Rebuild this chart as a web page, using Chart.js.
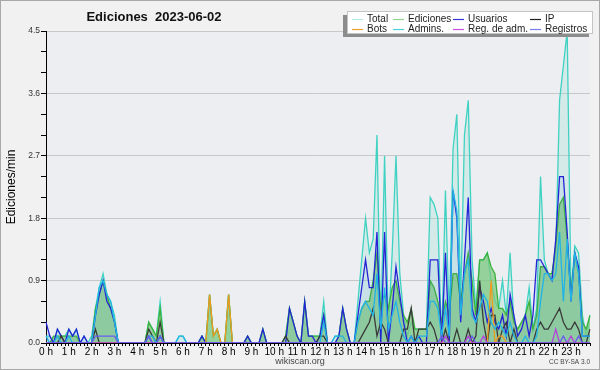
<!DOCTYPE html>
<html>
<head>
<meta charset="utf-8">
<script src="https://cdn.jsdelivr.net/npm/chart.js@4.4.0/dist/chart.umd.min.js"></script>
<style>
  html, body { margin: 0; padding: 0; background: #f1f1f1; }
  canvas { display: block; }
</style>
</head>
<body>
<canvas id="editsChart" width="600" height="370"></canvas>
<script>
// 10-minute slots, 6 per hour
const hours = [...Array(24).keys()];
const slots = [];
hours.forEach(h => { for (let m = 0; m < 6; m++) slots.push(h + ':' + m + '0'); });

const total = [
  0.1,0.1,0,0.2,0.1,0.1,  0.2,0.1,0.2,0,0.1,0,  0.1,0.5,0.8,1.0,0.7,0.6,  0.4,0,0,0,0,0,
  0,0,0,0.3,0.2,0.1,  0.6,0,0,0,0,0.1,  0.1,0,0,0,0,0.1,  0,0.7,0.1,0.2,0,0,
  0.7,0,0,0,0,0.1,  0,0,0,0.2,0,0,  0,0,0,0.1,0.5,0.3,  0.1,0,0.6,0.1,0.1,0.1,
  0.1,0.6,0,0,0.1,0.1,  0.5,0.2,0,0,0.6,1.2,  1.8,1.3,1.5,3.0,0.1,2.7,  0.2,1.3,2.7,1.0,0.4,0.1,
  0.3,0.2,0.2,0.2,0.2,2.1,  2.0,1.8,0,2.2,0.3,2.8,  3.3,0.6,3.0,3.5,1.2,0.5,  1.2,1.2,1.3,0.9,0.6,0.5,
  0.9,0.4,1.3,0.3,0.2,0.3,  0.4,0.8,0.2,0.5,2.4,1.2,  1.0,1.0,1.3,3.5,4.0,4.5,  0.7,1.4,1.3,0.4,0.1,0.4
];
const ediciones = [
  0,0,0.1,0.1,0.1,0.1,  0.1,0.1,0.1,0,0,0,  0,0.5,0.7,0.9,0.7,0.5,  0.3,0,0,0,0,0,
  0,0,0,0.3,0.2,0.1,  0.5,0,0,0,0,0,  0,0,0,0,0,0.1,  0,0.7,0.1,0.2,0,0,
  0.7,0,0,0,0,0.1,  0,0,0,0.2,0,0,  0,0,0,0.1,0.5,0.3,  0.1,0,0.6,0.1,0.1,0.1,
  0.1,0.4,0,0,0,0.1,  0.5,0.2,0,0,0.3,0.5,  0.6,0.6,0.9,1.3,0.5,0.7,  0.5,0.8,0.9,0.6,0.4,0.3,
  0.5,0.2,0.2,0.2,0.2,0.9,  0.8,0.6,0.3,0.6,0.4,1.0,  1.0,0.6,1.0,1.3,0.9,0.4,  1.2,1.2,1.3,1.1,1.0,0.5,
  0.5,0.4,0.6,0.3,0.2,0.3,  0.4,0.6,0.2,0.4,1.1,1.1,  1.0,1.0,1.4,2.0,2.1,1.5,  0.7,1.3,1.0,0.3,0.2,0.4
];
const usuarios = [
  0.3,0.1,0,0.2,0.1,0,  0.2,0.1,0.2,0,0.1,0,  0,0.4,0.7,0.9,0.6,0.5,  0.3,0,0,0,0,0,
  0,0,0,0.1,0,0,  0.1,0,0,0,0,0,  0,0,0,0,0,0.1,  0,0,0,0,0,0,
  0,0,0,0,0,0.1,  0,0,0,0.2,0,0,  0,0,0,0,0.5,0.3,  0.1,0,0.6,0.1,0.1,0,
  0.1,0.4,0,0,0,0.1,  0.5,0.2,0,0,0.4,0.8,  1.2,0.8,0.8,1.6,0,1.6,  0,0.5,1.1,0.7,0.3,0,
  0.1,0,0.1,0,0,1.2,  1.2,1.2,0,1.3,0,2.2,  1.8,0.3,1.2,2.1,0.5,0.3,  0.8,0.6,0.3,0.5,0.3,0.2,
  0.4,0.1,0.7,0.4,0.1,0.2,  0.4,0.1,0.4,1.2,1.2,1.1,  1.0,0.9,1.5,2.4,2.4,1.6,  0.6,1.3,1.1,0.1,0.1,0.1
];
const ip = [
  0,0,0,0,0.1,0,  0,0,0,0,0,0,  0,0.2,0,0,0,0,  0,0,0,0,0,0,
  0,0,0,0.2,0.1,0,  0.3,0,0,0,0,0,  0,0,0,0,0,0,  0,0,0,0,0,0,
  0,0,0,0,0,0,  0,0,0,0,0,0,  0,0,0,0.1,0,0,  0,0,0,0,0,0,
  0.1,0.1,0,0,0,0,  0,0,0,0,0,0.1,  0.2,0.3,0.5,0.1,0.3,0.2,  0,0,0,0,0.2,0.2,
  0.5,0,0.2,0.2,0.2,0.3,  0.2,0,0,0.2,0,0,  0.2,0,0,0.2,0,0.1,  0.9,0.3,0,0.4,0.4,0,
  0.2,0.3,0,0.2,0,0,  0,0,0,0.2,0.3,0.2,  0.2,0.3,0.4,0.5,0.3,0.2,  0.2,0.3,0.2,0,0,0.2
];
const bots = [
  0,0,0,0,0,0,  0,0,0,0,0,0,  0,0,0,0,0,0,  0,0,0,0,0,0,
  0,0,0,0,0,0,  0,0,0,0,0,0,  0,0,0,0,0,0,  0,0.7,0.1,0.2,0,0,
  0.7,0,0,0,0,0,  0,0,0,0,0,0,  0,0,0,0,0,0,  0,0,0,0,0,0,
  0,0,0,0,0,0,  0,0,0,0,0,0,  0,0,0,0,0,0,  0,0,0,0,0,0,
  0,0,0,0,0,0,  0,0,0,0,0,0,  0,0,0,0,0,0,  0,0,0,0.9,0,0.1,
  0.1,0,0,0,0,0,  0,0,0,0,0,0,  0,0,0,0,0,0,  0,0,0,0,0,0
];
const admins = [
  0.1,0,0,0.1,0,0,  0.1,0,0,0,0,0,  0,0.4,0.8,0.9,0.7,0.6,  0.3,0,0,0,0,0,
  0,0,0,0.1,0.1,0,  0.1,0,0,0,0,0.1,  0.1,0,0,0,0,0,  0,0,0,0,0,0,
  0,0,0,0,0,0,  0,0,0,0,0,0,  0,0,0,0,0,0,  0,0,0,0,0,0,
  0,0.3,0,0,0.1,0.1,  0.1,0,0,0,0.3,0.5,  0.6,0.5,0.4,1.0,0.2,0.8,  0.2,0.4,0.6,0.3,0.1,0,
  0.1,0,0.1,0.1,0.1,0.6,  0.6,0.5,0.1,0.5,0.1,2.2,  1.9,0.4,1.0,1.2,0.4,0.3,  0.5,0.7,0.6,0.3,0.2,0.3,
  0.2,0.1,0.3,0.1,0,0,  0.1,0,0,0.1,0.6,1.0,  1.0,0.9,1.0,1.6,0.6,1.5,  0.6,1.3,1.0,0.1,0.1,0.1
];
const regAdm = [
  0,0,0,0,0,0,  0,0,0,0,0,0,  0,0,0,0,0,0,  0,0,0,0,0,0,
  0,0,0,0,0,0,  0,0,0,0,0,0,  0,0,0,0,0,0,  0,0,0,0,0,0,
  0,0,0,0,0,0,  0,0,0,0,0,0,  0,0,0,0,0,0,  0,0,0,0,0,0,
  0,0,0,0,0,0,  0,0,0,0,0,0,  0,0,0,0,0,0,  0,0,0,0,0,0,
  0,0,0,0,0,0,  0,0,0,0.1,0,0,  0,0,0,0.1,0,0,  0,0.1,0,0,0,0,
  0,0,0,0,0,0,  0,0,0,0,0,0,  0,0,0.2,0,0,0,  0.1,0,0,0,0,0
];
const registros = [
  0,0,0,0,0,0,  0,0,0,0,0,0,  0,0.1,0.1,0.1,0.1,0.1,  0.1,0,0,0,0,0,
  0,0,0,0.1,0,0,  0.1,0,0,0,0,0,  0,0,0,0,0,0,  0,0,0,0,0,0,
  0,0,0,0,0,0,  0,0,0,0,0,0,  0,0,0,0,0,0,  0,0,0,0,0,0,
  0,0,0,0,0,0,  0,0,0,0,0,0,  0,0,0,0,0,0,  0,0,0,0,0,0,
  0,0,0,0,0,0,  0,0,0.1,0,0,0,  0,0,0,0,0.1,0,  0,0,0,0,0,0,
  0,0,0,0,0,0,  0,0,0,0,0,0,  0,0,0,0,0.1,0,  0,0,0.1,0,0,0
];
const yTicks = [0, 0.9, 1.8, 2.7, 3.6, 4.5];

const FONT = '"Liberation Sans", Arial, sans-serif';

const legendItems = [
  ['Total', '#b4ebe6'], ['Ediciones', '#8fd68f'], ['Usuarios', '#3636e0'], ['IP', '#222222'],
  ['Bots', '#f0a030'], ['Admins.', '#4fcfe0'], ['Reg. de adm.', '#cc4ee0'], ['Registros', '#7c7cf2']
];

const isMajor = v => yTicks.some(t => Math.abs(t - v) < 1e-6);

const decorations = {
  id: 'decorations',
  beforeDraw(chart) {
    const { ctx, chartArea: a } = chart;
    ctx.save();
    ctx.fillStyle = '#f1f1f1';
    ctx.fillRect(0, 0, chart.width, chart.height);
    ctx.fillStyle = '#eceef1';
    ctx.fillRect(a.left, a.top, a.right - a.left, a.bottom - a.top);
    ctx.restore();
  },
  afterDraw(chart) {
    const ctx = chart.ctx;
    ctx.save();
    // frame
    ctx.strokeStyle = '#a8a8a8';
    ctx.lineWidth = 1;
    ctx.strokeRect(0.5, 0.5, chart.width - 1, chart.height - 1);
    // title
    ctx.fillStyle = '#111';
    ctx.font = 'bold 13px ' + FONT;
    ctx.textAlign = 'center';
    ctx.textBaseline = 'middle';
    ctx.fillText('Ediciones  2023-06-02', 154, 17);
    // legend box with shadow
    ctx.fillStyle = '#8c8c8c';
    ctx.fillRect(343, 15, 246, 22);
    ctx.fillStyle = '#ffffff';
    ctx.fillRect(347, 11.5, 245, 22);
    ctx.strokeStyle = '#c4c4c4';
    ctx.strokeRect(347.5, 11.5, 245, 22);
    const colX = [352, 393, 453, 530];
    const rowY = [18.5, 29];
    ctx.font = '10px ' + FONT;
    ctx.textAlign = 'left';
    legendItems.forEach((it, i) => {
      const x = colX[i % 4], y = rowY[Math.floor(i / 4)];
      ctx.strokeStyle = it[1];
      ctx.lineWidth = 1.2;
      ctx.beginPath();
      ctx.moveTo(x, Math.round(y) + 0.5);
      ctx.lineTo(x + 11, Math.round(y) + 0.5);
      ctx.stroke();
      ctx.fillStyle = '#222';
      ctx.fillText(it[0], x + 15, y + 0.5);
    });
    // footer
    ctx.fillStyle = '#444';
    ctx.font = '9px ' + FONT;
    ctx.textAlign = 'center';
    ctx.fillText('wikiscan.org', 300, 361.5);
    ctx.font = '6.5px ' + FONT;
    ctx.textAlign = 'right';
    ctx.fillText('CC BY-SA 3.0', 590, 362);
    ctx.restore();
  }
};

const area = (label, data, line, fill, order) => ({
  label, data, order,
  borderColor: line, backgroundColor: fill,
  fill: fill ? 'origin' : false,
  borderWidth: 1.3, pointRadius: 0, tension: 0
});

const ctx = document.getElementById('editsChart').getContext('2d');
new Chart(ctx, {
  type: 'line',
  data: {
    labels: slots,
    datasets: [
      area('Total', total, '#3fd2c2', 'rgba(120,220,200,0.2)', 8),
      area('Ediciones', ediciones, '#3cb23c', 'rgba(125,200,125,0.72)', 7),
      area('Usuarios', usuarios, '#2424d6', 'rgba(70,130,220,0.08)', 6),
      area('IP', ip, '#3a3a3a', null, 5),
      area('Bots', bots, '#f09a20', null, 4),
      area('Admins.', admins, '#20b4e6', null, 3),
      area('Reg. de adm.', regAdm, '#b63fe0', null, 2),
      area('Registros', registros, '#6a5cf0', null, 1)
    ]
  },
  options: {
    responsive: false,
    devicePixelRatio: 1,
    animation: false,
    layout: { padding: { left: 0, right: 10, top: 31, bottom: 0 } },
    plugins: { legend: { display: false }, tooltip: { enabled: false }, title: { display: false } },
    scales: {
      x: {
        type: 'category',
        offset: false,
        border: { color: '#000', width: 1 },
        grid: { drawOnChartArea: false, tickLength: 3, tickColor: '#000' },
        ticks: {
          autoSkip: false, maxRotation: 0, minRotation: 0, padding: 0,
          color: '#000', font: { family: FONT, size: 10 },
          callback: (v, i) => (i % 6 === 0 ? (i / 6) + ' h' : '')
        },
        afterFit: s => { s.height = 27; }
      },
      y: {
        min: 0, max: 4.5,
        border: { color: '#000', width: 1 },
        grid: {
          color: c => (c.tick && c.tick.value > 0 && isMajor(c.tick.value)) ? '#c8c8c8' : 'rgba(0,0,0,0)',
          tickColor: '#000', tickLength: 5
        },
        ticks: {
          stepSize: 0.3, padding: 1, color: '#333',
          font: { family: FONT, size: 8.5 },
          callback: v => (isMajor(v) ? v.toFixed(1) : '')
        },
        title: {
          display: true, text: 'Ediciones/min', color: '#000',
          font: { family: FONT, size: 12 }, padding: { top: 4, bottom: 0 }
        },
        afterFit: s => { s.width = 46; }
      }
    }
  },
  plugins: [decorations]
});
</script>
</body>
</html>
